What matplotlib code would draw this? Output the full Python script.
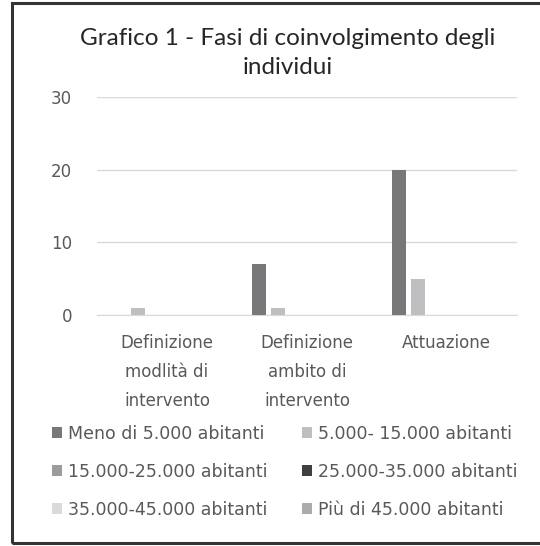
import numpy as np
import matplotlib
matplotlib.use("Agg")
import matplotlib.pyplot as plt
from matplotlib.patches import Rectangle

# dati
categorie = ["Definizione\nmodlità di\nintervento", "Definizione\nambito di\nintervento", "Attuazione"]
serie = ["Meno di 5.000 abitanti", "5.000- 15.000 abitanti",
         "15.000-25.000 abitanti", "25.000-35.000 abitanti",
         "35.000-45.000 abitanti", "Più di 45.000 abitanti"]
meno_5000 = [0, 7, 20]
da_5000_15000 = [1, 1, 5]
da_15000_25000 = [0, 0, 0]
da_25000_35000 = [0, 0, 0]
da_35000_45000 = [0, 0, 0]
piu_45000 = [0, 0, 0]
yticks = [0, 10, 20, 30]

valori = [meno_5000, da_5000_15000, da_15000_25000, da_25000_35000, da_35000_45000, piu_45000]
colori = ["#78787a", "#bfbfc1", "#9b9b9d", "#3f3f41", "#dadadc", "#ababad"]

plt.rcParams['font.family'] = ['DejaVu Sans']

fig = plt.figure(figsize=(5.4, 5.46), dpi=100)
ax = fig.add_axes([0.1796, 0.4231, 0.7774, 0.3992])

x = np.arange(len(categorie))
passo = 0.136
larghezza = 0.1
barre = []
for i, (nome, vals) in enumerate(zip(serie, valori)):
    b = ax.bar(x + (i - 2.5) * passo, vals, width=larghezza, color=colori[i], label=nome, zorder=3)
    barre.append(b)

ax.set_xlim(-0.5, 2.5)
ax.set_ylim(0, 30)
ax.set_yticks(yticks)
ax.yaxis.grid(True, color="#d9d9d9", linewidth=1.0, zorder=0)
ax.set_axisbelow(True)
for s in ["top", "right", "left"]:
    ax.spines[s].set_visible(False)
ax.spines["bottom"].set_color("#d9d9d9")
ax.tick_params(axis="both", length=0, colors="#595959", labelsize=12)
ax.tick_params(axis="y", pad=18)
ax.tick_params(axis="x", pad=14)
ax.set_xticks(x)
ax.set_xticklabels(categorie, linespacing=1.78)

fig.text(0.533, 0.903, "Grafico 1 - Fasi di coinvolgimento degli\nindividui", ha="center", va="center",
         fontsize=17.5, color="#262626", family=["Lato", "DejaVu Sans"], linespacing=1.5)

# legenda su tre righe, ordine per riga come nel grafico
ordine = [0, 2, 4, 1, 3, 5]
leg = fig.legend([barre[k] for k in ordine], [serie[k] for k in ordine],
                 loc="upper left", bbox_to_anchor=(0.096, 0.222), ncol=2, frameon=False,
                 fontsize=12.5, handlelength=0.57, handleheight=0.57, handletextpad=0.35,
                 columnspacing=2.0, labelspacing=1.15, borderaxespad=0, borderpad=0)
for t in leg.get_texts():
    t.set_color("#595959")

# cornice
fig.patches.append(Rectangle((12 / 540, 3 / 546), 1.0, 540 / 546, transform=fig.transFigure,
                             fill=False, edgecolor="#333333", linewidth=2.2))

fig.savefig("out.png", dpi=100, facecolor="white")
